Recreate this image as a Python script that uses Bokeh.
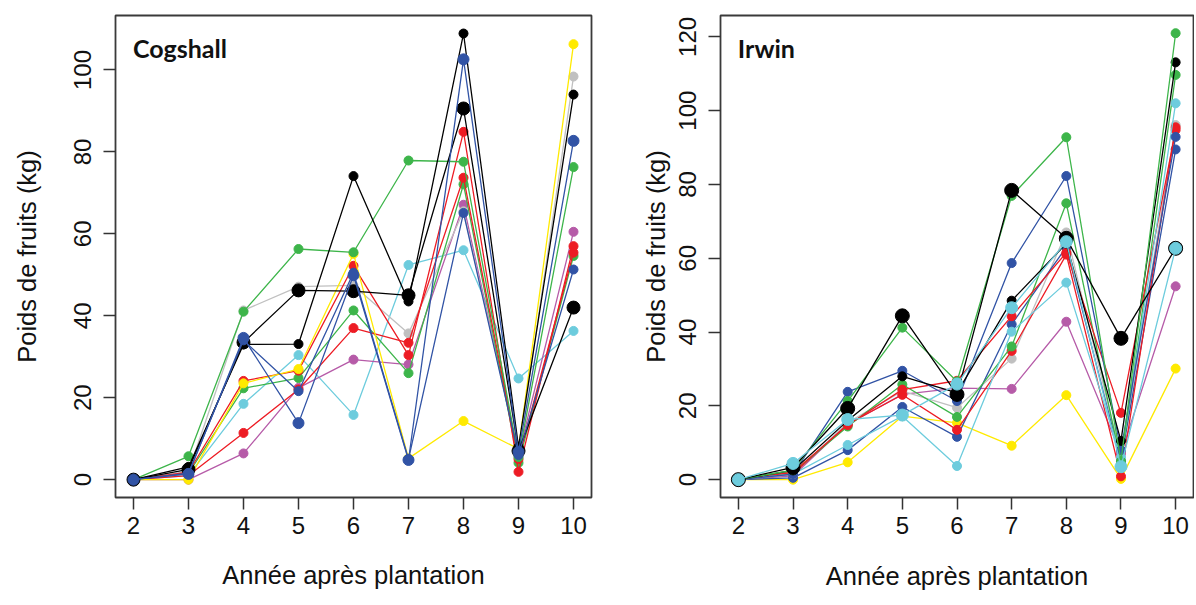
from bokeh.plotting import figure
from bokeh.layouts import row
from bokeh.models import FixedTicker, Range1d, Label
from bokeh.embed import file_html
from bokeh.resources import INLINE

years = [2, 3, 4, 5, 6, 7, 8, 9, 10]
x_ticks = [2, 3, 4, 5, 6, 7, 8, 9, 10]
cog_y_ticks = [0, 20, 40, 60, 80, 100]
irw_y_ticks = [0, 20, 40, 60, 80, 100, 120]

x_label = "Année après plantation"
y_label = "Poids de fruits (kg)"

# ---- Cogshall (kg of fruit per tree, years 2..10) ----
cog_green_a = [0, 5.7, 41.0, 56.3, 55.5, 77.9, 77.6, 5.5, 76.3]
cog_green_b = [0, 1.5, 22.3, 24.8, 41.3, 26.0, 72.1, 4.1, 54.6]
cog_gray = [0, 2.0, 41.3, 47.1, 47.4, 35.7, 65.5, 6.5, 98.4]
cog_black_a = [0, 3.1, 33.0, 33.1, 74.1, 43.5, 108.9, 8.0, 94.0]
cog_black_b = [0, 2.5, 33.5, 46.2, 46.0, 45.0, 90.6, 7.0, 42.0]
cog_yellow = [0, 0.0, 23.5, 27.0, 55.1, 5.2, 14.3, 7.5, 106.3]
cog_blue_a = [0, 1.4, 34.6, 13.8, 49.9, 4.8, 102.6, 6.8, 82.7]
cog_blue_b = [0, 1.6, 34.0, 21.6, 50.5, 5.0, 65.1, 6.0, 51.3]
cog_red_a = [0, 1.8, 24.1, 26.6, 52.2, 30.4, 84.9, 1.9, 57.0]
cog_red_b = [0, 1.0, 11.4, 22.0, 37.0, 33.4, 73.7, 5.0, 55.4]
cog_magenta = [0, 0.0, 6.4, 22.4, 29.3, 28.1, 67.1, 6.0, 60.5]
cog_cyan = [0, 1.0, 18.5, 30.4, 15.8, 52.4, 56.0, 24.7, 36.3]

# ---- Irwin ----
irw_black_a = [0, 3.3, 19.3, 44.4, 23.1, 78.4, 65.4, 38.3, 62.7]
irw_black_b = [0, 2.5, 16.0, 28.0, 23.5, 48.5, 64.0, 10.5, 113.1]
irw_green_a = [0, 2.6, 21.3, 41.2, 26.6, 76.9, 92.8, 5.0, 121.0]
irw_green_b = [0, 2.0, 14.4, 25.8, 17.0, 36.1, 74.9, 4.4, 109.7]
irw_blue_a = [0, 1.5, 23.8, 29.5, 21.3, 58.7, 82.3, 8.0, 92.9]
irw_blue_b = [0, 0.5, 8.0, 19.7, 11.6, 42.1, 63.0, 5.0, 89.5]
irw_cyan_a = [0, 4.4, 16.3, 17.5, 25.9, 46.6, 64.5, 3.5, 62.7]
irw_cyan_b = [0, 1.5, 9.4, 17.2, 3.7, 40.1, 53.4, 6.0, 102.0]
irw_red_a = [0, 2.0, 14.8, 24.4, 26.8, 44.3, 61.5, 18.1, 94.8]
irw_red_b = [0, 1.5, 15.0, 23.0, 13.5, 34.9, 61.0, 0.9, 95.5]
irw_gray = [0, 1.5, 15.5, 24.0, 19.5, 32.8, 67.0, 6.0, 96.1]
irw_magenta = [0, 1.0, 15.0, 23.1, 24.8, 24.6, 42.8, 7.0, 52.4]
irw_yellow = [0, 0.0, 4.7, 17.2, 15.4, 9.2, 22.9, 0.2, 30.1]

BLACK = "#000000"
RED = "#ED1C24"
GREEN = "#3DB54A"
BLUE = "#3153A5"
CYAN = "#6DCCDD"
MAGENTA = "#B65BA8"
YELLOW = "#FFEA00"
GRAY = "#C0C0C0"

cog_series = [
    (cog_cyan, CYAN, 9), (cog_magenta, MAGENTA, 9), (cog_gray, GRAY, 9),
    (cog_green_b, GREEN, 9), (cog_red_b, RED, 9), (cog_red_a, RED, 9),
    (cog_yellow, YELLOW, 9), (cog_green_a, GREEN, 9), (cog_black_b, BLACK, 13),
    (cog_black_a, BLACK, 9), (cog_blue_b, BLUE, 9), (cog_blue_a, BLUE, 11),
]
irw_series = [
    (irw_yellow, YELLOW, 9), (irw_magenta, MAGENTA, 9), (irw_gray, GRAY, 9),
    (irw_blue_b, BLUE, 9), (irw_red_b, RED, 9), (irw_green_b, GREEN, 9),
    (irw_red_a, RED, 9), (irw_cyan_b, CYAN, 9), (irw_blue_a, BLUE, 9),
    (irw_black_b, BLACK, 9), (irw_green_a, GREEN, 9), (irw_black_a, BLACK, 14),
    (irw_cyan_a, CYAN, 12),
]

FONT = "Liberation Sans"


def make_panel(series, yticks, y0, y1, width, height, bl, br, bt, bb,
               title, ty, ylab_standoff, xlab_standoff):
    p = figure(width=width, height=height, output_backend="svg",
               toolbar_location=None, x_range=Range1d(1.673, 10.327),
               y_range=Range1d(y0, y1), min_border_left=bl, min_border_right=br,
               min_border_top=bt, min_border_bottom=bb)
    p.grid.visible = False
    p.outline_line_color = "#3a3a3a"
    p.outline_line_width = 1.8
    p.background_fill_color = "white"
    p.border_fill_color = "white"
    for ys, col, sz in series:
        p.line(years, ys, line_color=col, line_width=1.3)
        p.scatter(years, ys, size=sz, fill_color=col, line_color=col)
    p.xaxis.ticker = FixedTicker(ticks=x_ticks)
    p.yaxis.ticker = FixedTicker(ticks=yticks)
    for ax in (p.xaxis[0], p.yaxis[0]):
        ax.axis_line_color = None
        ax.major_tick_line_color = "#333333"
        ax.major_tick_line_width = 1.5
        ax.major_tick_out = 12
        ax.major_tick_in = 0
        ax.minor_tick_line_color = None
        ax.major_label_text_font = FONT
        ax.major_label_text_font_size = "24px"
        ax.major_label_text_color = "#111111"
        ax.axis_label_text_font = FONT
        ax.axis_label_text_font_style = "normal"
        ax.axis_label_text_color = "#111111"
    p.xaxis.axis_label = x_label
    p.yaxis.axis_label = y_label
    p.xaxis.axis_label_text_font_size = "25.5px"
    p.yaxis.axis_label_text_font_size = "25.5px"
    p.xaxis.major_label_standoff = 7
    p.xaxis.axis_label_standoff = xlab_standoff
    p.yaxis.major_label_standoff = 12
    p.yaxis.axis_label_standoff = ylab_standoff
    p.yaxis.major_label_orientation = "vertical"
    p.add_layout(Label(x=1.99, y=ty, text=title, text_font="Lato",
                       text_font_style="bold", text_font_size="25px",
                       text_baseline="middle", text_color="#111111"))
    return p


p1 = make_panel(cog_series, cog_y_ticks, -4.36, 113.3, 628, 597, 115, 37, 15, 97,
                "Cogshall", 105.3, 31, 24)
p2 = make_panel(irw_series, irw_y_ticks, -4.84, 125.8, 566, 597, 92, 1, 12, 100,
                "Irwin", 117.0, 7, 25)

layout = row(p1, p2)
open("out.html", "w").write(file_html(layout, INLINE))
